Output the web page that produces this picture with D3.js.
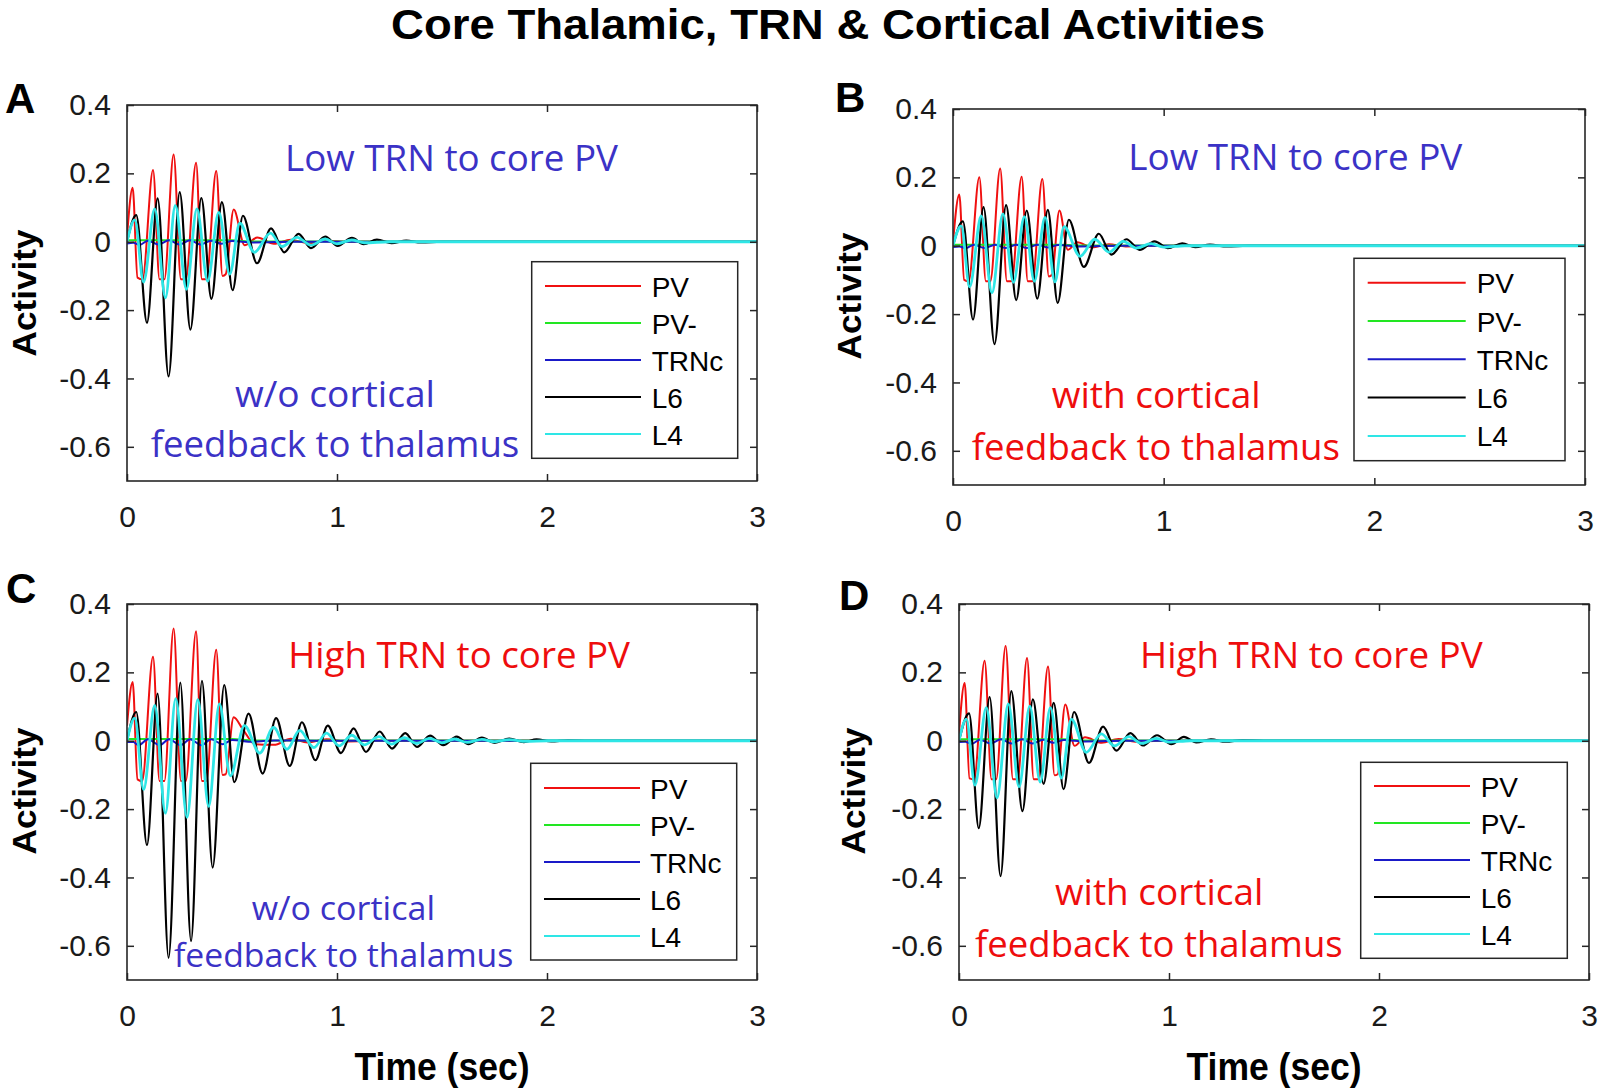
<!DOCTYPE html>
<html><head><meta charset="utf-8">
<script src="https://cdn.jsdelivr.net/npm/d3@7"></script>
<style>html,body{margin:0;padding:0;background:#fff;}</style>
</head><body>
<script>
// ---------- data (time in sec, activity) ----------
const timeTicks = [0, 1, 2, 3];
const activityTicks = [0.4, 0.2, 0, -0.2, -0.4, -0.6];
const seriesNames = ["PV", "PV-", "TRNc", "L6", "L4"];

// Panel A: Low TRN to core PV, w/o cortical feedback
const A_PV = [[0,0.015],[0.027,0.158],[0.05,-0.105],[0.074,-0.11],[0.124,0.21],[0.155,-0.11],[0.178,-0.11],[0.222,0.255],[0.257,-0.11],[0.28,-0.11],[0.329,0.231],[0.357,-0.11],[0.378,-0.11],[0.425,0.207],[0.455,-0.1],[0.47,-0.095],[0.508,0.094],[0.56,-0.01],[0.62,0.012],[0.7,-0.006],[0.78,0.006],[0.86,-0.004],[0.95,0.003],[1.05,0],[3,0]];
const A_PVm = [[0,0.004],[0.5,0.004],[0.6,0.001],[3,0]];
const A_TRNc = [[0,-0.005],[0.03,-0.003],[0.06,-0.009],[0.1,0.003],[0.15,-0.008],[0.2,0.004],[0.25,-0.008],[0.3,0.004],[0.35,-0.008],[0.4,0.003],[0.45,-0.006],[0.5,0.002],[0.6,-0.002],[0.8,0],[3,0]];
const A_L6 = [[0,0],[0.044,0.078],[0.095,-0.237],[0.146,0.127],[0.198,-0.394],[0.251,0.145],[0.302,-0.257],[0.354,0.128],[0.402,-0.167],[0.452,0.116],[0.503,-0.142],[0.552,0.076],[0.619,-0.063],[0.686,0.039],[0.749,-0.031],[0.817,0.023],[0.876,-0.019],[0.944,0.015],[1.003,-0.012],[1.071,0.011],[1.127,-0.007],[1.19,0.006],[1.26,-0.004],[1.33,0.003],[1.4,-0.002],[1.5,0],[3,0]];
const A_L4 = [[0,0],[0.037,0.064],[0.079,-0.118],[0.132,0.096],[0.183,-0.164],[0.23,0.106],[0.283,-0.139],[0.333,0.096],[0.384,-0.115],[0.437,0.086],[0.489,-0.095],[0.537,0.054],[0.606,-0.031],[0.683,0.025],[0.738,-0.014],[0.81,0.013],[0.876,-0.01],[0.944,0.008],[1.0,-0.006],[1.07,0.005],[1.13,-0.003],[1.25,0],[3,0]];

// Panel B: Low TRN to core PV, with cortical feedback
const B_PV = [[0,0.01],[0.03,0.15],[0.053,-0.1],[0.074,-0.104],[0.125,0.2],[0.156,-0.104],[0.177,-0.104],[0.224,0.226],[0.256,-0.104],[0.278,-0.104],[0.326,0.202],[0.355,-0.104],[0.377,-0.104],[0.424,0.195],[0.455,-0.09],[0.47,-0.085],[0.505,0.103],[0.545,-0.012],[0.59,0.01],[0.66,-0.005],[0.74,0.004],[0.82,-0.002],[0.95,0],[3,0]];
const B_PVm = [[0,0.003],[0.5,0.003],[0.6,0.001],[3,0]];
const B_TRNc = [[0,-0.004],[0.03,-0.002],[0.06,-0.007],[0.1,0.003],[0.15,-0.007],[0.2,0.003],[0.25,-0.007],[0.3,0.003],[0.35,-0.007],[0.4,0.003],[0.45,-0.005],[0.5,0.002],[0.6,-0.002],[0.8,0],[3,0]];
const B_L6 = [[0,0],[0.047,0.071],[0.095,-0.216],[0.145,0.113],[0.197,-0.288],[0.252,0.119],[0.3,-0.159],[0.35,0.103],[0.4,-0.155],[0.45,0.105],[0.497,-0.167],[0.55,0.076],[0.621,-0.062],[0.692,0.035],[0.752,-0.026],[0.823,0.019],[0.886,-0.012],[0.957,0.013],[1.02,-0.007],[1.088,0.007],[1.15,-0.004],[1.22,0.003],[1.3,-0.002],[1.4,0],[3,0]];
const B_L4 = [[0,0],[0.039,0.058],[0.079,-0.12],[0.134,0.087],[0.185,-0.138],[0.237,0.093],[0.287,-0.107],[0.339,0.085],[0.386,-0.104],[0.437,0.083],[0.484,-0.106],[0.527,0.056],[0.603,-0.031],[0.673,0.019],[0.741,-0.019],[0.808,0.013],[0.87,-0.007],[0.94,0.006],[1.0,-0.004],[1.1,0],[3,0]];

// Panel C: High TRN to core PV, w/o cortical feedback
const C_PV = [[0,0.044],[0.027,0.172],[0.05,-0.113],[0.072,-0.118],[0.124,0.246],[0.155,-0.118],[0.178,-0.118],[0.222,0.328],[0.257,-0.118],[0.28,-0.118],[0.329,0.32],[0.357,-0.118],[0.378,-0.118],[0.425,0.266],[0.455,-0.1],[0.47,-0.098],[0.508,0.069],[0.55,0.035],[0.61,-0.01],[0.7,-0.012],[0.78,0.006],[0.86,-0.005],[0.95,0.004],[1.05,-0.002],[1.2,0],[3,0]];
const C_PVm = [[0,0.005],[0.5,0.005],[0.6,0.001],[3,0]];
const C_TRNc = [[0,-0.004],[0.03,-0.004],[0.055,-0.013],[0.1,0.004],[0.155,-0.013],[0.2,0.004],[0.255,-0.013],[0.3,0.004],[0.355,-0.013],[0.4,0.004],[0.455,-0.01],[0.5,0.002],[0.6,-0.003],[0.7,0.001],[0.9,0],[3,0]];
const C_L6 = [[0,0],[0.044,0.084],[0.095,-0.305],[0.146,0.138],[0.198,-0.635],[0.254,0.17],[0.305,-0.586],[0.357,0.175],[0.408,-0.371],[0.463,0.163],[0.511,-0.121],[0.579,0.079],[0.646,-0.096],[0.71,0.066],[0.775,-0.074],[0.833,0.054],[0.897,-0.057],[0.956,0.044],[1.019,-0.036],[1.079,0.036],[1.138,-0.033],[1.203,0.027],[1.262,-0.023],[1.325,0.022],[1.381,-0.018],[1.443,0.015],[1.506,-0.013],[1.57,0.012],[1.626,-0.01],[1.69,0.009],[1.75,-0.006],[1.82,0.006],[1.89,-0.004],[1.95,0.004],[2.02,-0.002],[2.1,0.001],[2.2,0],[3,0]];
const C_L4 = [[0,0],[0.037,0.066],[0.079,-0.143],[0.132,0.103],[0.183,-0.212],[0.232,0.123],[0.286,-0.224],[0.337,0.12],[0.389,-0.192],[0.44,0.108],[0.492,-0.103],[0.559,0.044],[0.632,-0.036],[0.698,0.039],[0.762,-0.025],[0.822,0.03],[0.89,-0.02],[0.95,0.022],[1.01,-0.015],[1.07,0.016],[1.13,-0.012],[1.2,0.012],[1.26,-0.01],[1.32,0.009],[1.38,-0.008],[1.44,0.007],[1.5,-0.006],[1.56,0.005],[1.62,-0.005],[1.69,0.004],[1.75,-0.003],[1.82,0.003],[1.9,-0.002],[2.0,0],[3,0]];

// Panel D: High TRN to core PV, with cortical feedback
const D_PV = [[0,0.02],[0.027,0.169],[0.05,-0.11],[0.072,-0.113],[0.122,0.234],[0.155,-0.113],[0.177,-0.113],[0.222,0.277],[0.257,-0.113],[0.279,-0.113],[0.324,0.242],[0.356,-0.113],[0.377,-0.113],[0.424,0.217],[0.455,-0.101],[0.47,-0.098],[0.506,0.106],[0.55,-0.015],[0.6,0.01],[0.68,-0.006],[0.76,0.005],[0.84,-0.003],[0.95,0],[3,0]];
const D_PVm = [[0,0.004],[0.5,0.004],[0.6,0.001],[3,0]];
const D_TRNc = [[0,-0.004],[0.03,-0.003],[0.06,-0.009],[0.1,0.003],[0.15,-0.008],[0.2,0.004],[0.25,-0.008],[0.3,0.004],[0.35,-0.008],[0.4,0.003],[0.45,-0.006],[0.5,0.002],[0.6,-0.002],[0.8,0],[3,0]];
const D_L6 = [[0,0],[0.048,0.08],[0.094,-0.256],[0.146,0.128],[0.198,-0.396],[0.249,0.145],[0.302,-0.206],[0.352,0.121],[0.403,-0.126],[0.451,0.111],[0.498,-0.142],[0.548,0.084],[0.619,-0.065],[0.686,0.041],[0.749,-0.029],[0.816,0.022],[0.876,-0.014],[0.943,0.016],[1.011,-0.01],[1.071,0.011],[1.13,-0.005],[1.2,0.004],[1.27,-0.003],[1.35,0.002],[1.45,0],[3,0]];
const D_L4 = [[0,0],[0.035,0.063],[0.076,-0.13],[0.13,0.097],[0.181,-0.167],[0.235,0.108],[0.286,-0.135],[0.337,0.101],[0.387,-0.121],[0.435,0.097],[0.487,-0.109],[0.535,0.063],[0.606,-0.034],[0.678,0.02],[0.74,-0.015],[0.81,0.012],[0.87,-0.008],[0.94,0.007],[1.0,-0.004],[1.1,0],[3,0]];

const titleText = "Core Thalamic, TRN & Cortical Activities";
const xLabel = "Time (sec)";
const yLabel = "Activity";

// ---------- styles & layout ----------
const seriesColors = ["#f01010", "#22e622", "#1a1ac8", "#000000", "#2ee6e6"];
const seriesWidths = [2, 2, 2, 2.2, 2.8];
const BLUE = "#3b32c6", RED = "#ee0d0d";

const panels = [
  {letter:"A", lx:5, ly:113, x0:127, x1:757, y0:105, y1:481, series:[A_PV,A_PVm,A_TRNc,A_L6,A_L4],
   ylab:{x:36, y:293},
   legend:{bx:531.7, by:261.7, bw:206, bh:196.6, l0:545, l1:641, tx:651.7, ry:286, dr:37},
   notes:[{t:"Low TRN to core PV", c:BLUE, x0:285, x1:618, y:171, fs:36},
          {t:"w/o cortical", c:BLUE, x0:235, x1:435, y:406.7, fs:36},
          {t:"feedback to thalamus", c:BLUE, x0:150.7, x1:519.3, y:456.7, fs:36}]},
  {letter:"B", lx:835, ly:112, x0:953, x1:1585, y0:109, y1:485, series:[B_PV,B_PVm,B_TRNc,B_L6,B_L4],
   ylab:{x:861, y:296},
   legend:{bx:1354, by:258.3, bw:211, bh:202.4, l0:1367.7, l1:1465.7, tx:1476.7, ry:282.7, dr:38.3},
   notes:[{t:"Low TRN to core PV", c:BLUE, x0:1128.3, x1:1462.3, y:170, fs:36},
          {t:"with cortical", c:RED, x0:1051.7, x1:1260.7, y:408.3, fs:36},
          {t:"feedback to thalamus", c:RED, x0:971.7, x1:1340, y:460, fs:36}]},
  {letter:"C", lx:6, ly:603, x0:127, x1:757, y0:604, y1:980, series:[C_PV,C_PVm,C_TRNc,C_L6,C_L4],
   ylab:{x:36, y:791},
   legend:{bx:530.7, by:763.3, bw:206, bh:196.7, l0:544, l1:640, tx:650, ry:788, dr:37},
   notes:[{t:"High TRN to core PV", c:RED, x0:288.3, x1:630, y:668.3, fs:36},
          {t:"w/o cortical", c:BLUE, x0:251.7, x1:435, y:920, fs:33},
          {t:"feedback to thalamus", c:BLUE, x0:174, x1:513.3, y:966.7, fs:33}]},
  {letter:"D", lx:839, ly:610, x0:959, x1:1589, y0:604, y1:980, series:[D_PV,D_PVm,D_TRNc,D_L6,D_L4],
   ylab:{x:865, y:791},
   legend:{bx:1360.7, by:762.3, bw:206.6, bh:196, l0:1374, l1:1470, tx:1480.7, ry:786, dr:37},
   notes:[{t:"High TRN to core PV", c:RED, x0:1140, x1:1482.7, y:668.3, fs:36},
          {t:"with cortical", c:RED, x0:1055, x1:1263.3, y:905, fs:36},
          {t:"feedback to thalamus", c:RED, x0:975, x1:1342.7, y:956.7, fs:36}]}
];

const AX = "#262626";
const ARIAL = "'Liberation Sans', Arial, Helvetica, sans-serif";
const NOTEFONT = "'Open Sans', 'Noto Sans', sans-serif";

const svg = d3.select("body").append("svg")
  .attr("width", 1600).attr("height", 1092)
  .style("background", "#fff");
svg.append("rect").attr("width",1600).attr("height",1092).attr("fill","#fff");

// title
svg.append("text").attr("x", 391).attr("y", 39)
  .attr("font-family", ARIAL).attr("font-weight", "bold").attr("font-size", 42)
  .attr("textLength", 874).attr("lengthAdjust", "spacingAndGlyphs")
  .attr("fill", "#000").text(titleText);

panels.forEach((p, pi) => {
  const x = d3.scaleLinear().domain([0, 3]).range([p.x0, p.x1]);
  const y = d3.scaleLinear().domain([-0.7, 0.4]).range([p.y1, p.y0]);
  const g = svg.append("g");

  const clipId = "clip" + pi;
  svg.append("clipPath").attr("id", clipId).append("rect")
    .attr("x", p.x0).attr("y", p.y0).attr("width", p.x1 - p.x0).attr("height", p.y1 - p.y0);

  // lines
  const line = d3.line().x(d => x(d[0])).y(d => y(d[1])).curve(d3.curveMonotoneX);
  const lg = g.append("g").attr("clip-path", `url(#${clipId})`);
  p.series.forEach((s, si) => {
    lg.append("path").attr("d", line(s)).attr("fill", "none")
      .attr("stroke", seriesColors[si]).attr("stroke-width", seriesWidths[si])
      .attr("stroke-linejoin", "round");
  });

  // axes
  const styleAxis = sel => {
    sel.select(".domain").remove();
    sel.selectAll(".tick line").attr("stroke", AX).attr("stroke-width", 1.5);
    sel.selectAll(".tick text").attr("fill", "#1a1a1a")
      .attr("font-family", ARIAL).attr("font-size", 30);
  };
  g.append("g").attr("transform", `translate(0,${p.y1})`)
    .call(d3.axisBottom(x).tickValues(timeTicks).tickFormat(d3.format("d")).tickSizeInner(-7).tickSizeOuter(0).tickPadding(25))
    .call(styleAxis);
  g.append("g").attr("transform", `translate(0,${p.y0})`)
    .call(d3.axisTop(x).tickValues(timeTicks).tickFormat("").tickSizeInner(-7).tickSizeOuter(0))
    .call(styleAxis);
  g.append("g").attr("transform", `translate(${p.x0},0)`)
    .call(d3.axisLeft(y).tickValues(activityTicks).tickFormat(d => d === 0 ? "0" : d3.format(".1f")(d).replace("−", "-")).tickSizeInner(-7).tickSizeOuter(0).tickPadding(16))
    .call(styleAxis);
  g.append("g").attr("transform", `translate(${p.x1},0)`)
    .call(d3.axisRight(y).tickValues(activityTicks).tickFormat("").tickSizeInner(-7).tickSizeOuter(0))
    .call(styleAxis);

  // frame
  g.append("rect").attr("x", p.x0).attr("y", p.y0)
    .attr("width", p.x1 - p.x0).attr("height", p.y1 - p.y0)
    .attr("fill", "none").attr("stroke", AX).attr("stroke-width", 1.6);

  // panel letter
  g.append("text").attr("x", p.lx).attr("y", p.ly)
    .attr("font-family", ARIAL).attr("font-weight", "bold").attr("font-size", 42)
    .attr("fill", "#000").text(p.letter);

  // y label
  g.append("text").attr("transform", `translate(${p.ylab.x},${p.ylab.y}) rotate(-90)`)
    .attr("text-anchor", "middle")
    .attr("font-family", ARIAL).attr("font-weight", "bold").attr("font-size", 34)
    .attr("textLength", 127).attr("lengthAdjust", "spacingAndGlyphs")
    .attr("fill", "#000").text(yLabel);

  // x label (bottom row only)
  if (pi >= 2) {
    const cx = (p.x0 + p.x1) / 2;
    g.append("text").attr("x", cx - 87.5).attr("y", 1080)
      .attr("font-family", ARIAL).attr("font-weight", "bold").attr("font-size", 39)
      .attr("textLength", 175).attr("lengthAdjust", "spacingAndGlyphs")
      .attr("fill", "#000").text(xLabel);
  }

  // annotations
  p.notes.forEach(n => {
    g.append("text").attr("x", n.x0).attr("y", n.y)
      .attr("font-family", NOTEFONT).attr("font-size", n.fs)
      .attr("textLength", n.x1 - n.x0).attr("lengthAdjust", "spacingAndGlyphs")
      .attr("fill", n.c).text(n.t);
  });

  // legend
  const L = p.legend;
  g.append("rect").attr("x", L.bx).attr("y", L.by).attr("width", L.bw).attr("height", L.bh)
    .attr("fill", "#fff").attr("stroke", AX).attr("stroke-width", 1.5);
  seriesNames.forEach((nm, i) => {
    const ry = L.ry + i * L.dr;
    g.append("line").attr("x1", L.l0).attr("x2", L.l1).attr("y1", ry).attr("y2", ry)
      .attr("stroke", seriesColors[i]).attr("stroke-width", Math.min(seriesWidths[i], 2));
    g.append("text").attr("x", L.tx).attr("y", ry + 10.5)
      .attr("font-family", ARIAL).attr("font-size", 28).attr("fill", "#000").text(nm);
  });
});
</script>
</body></html>
